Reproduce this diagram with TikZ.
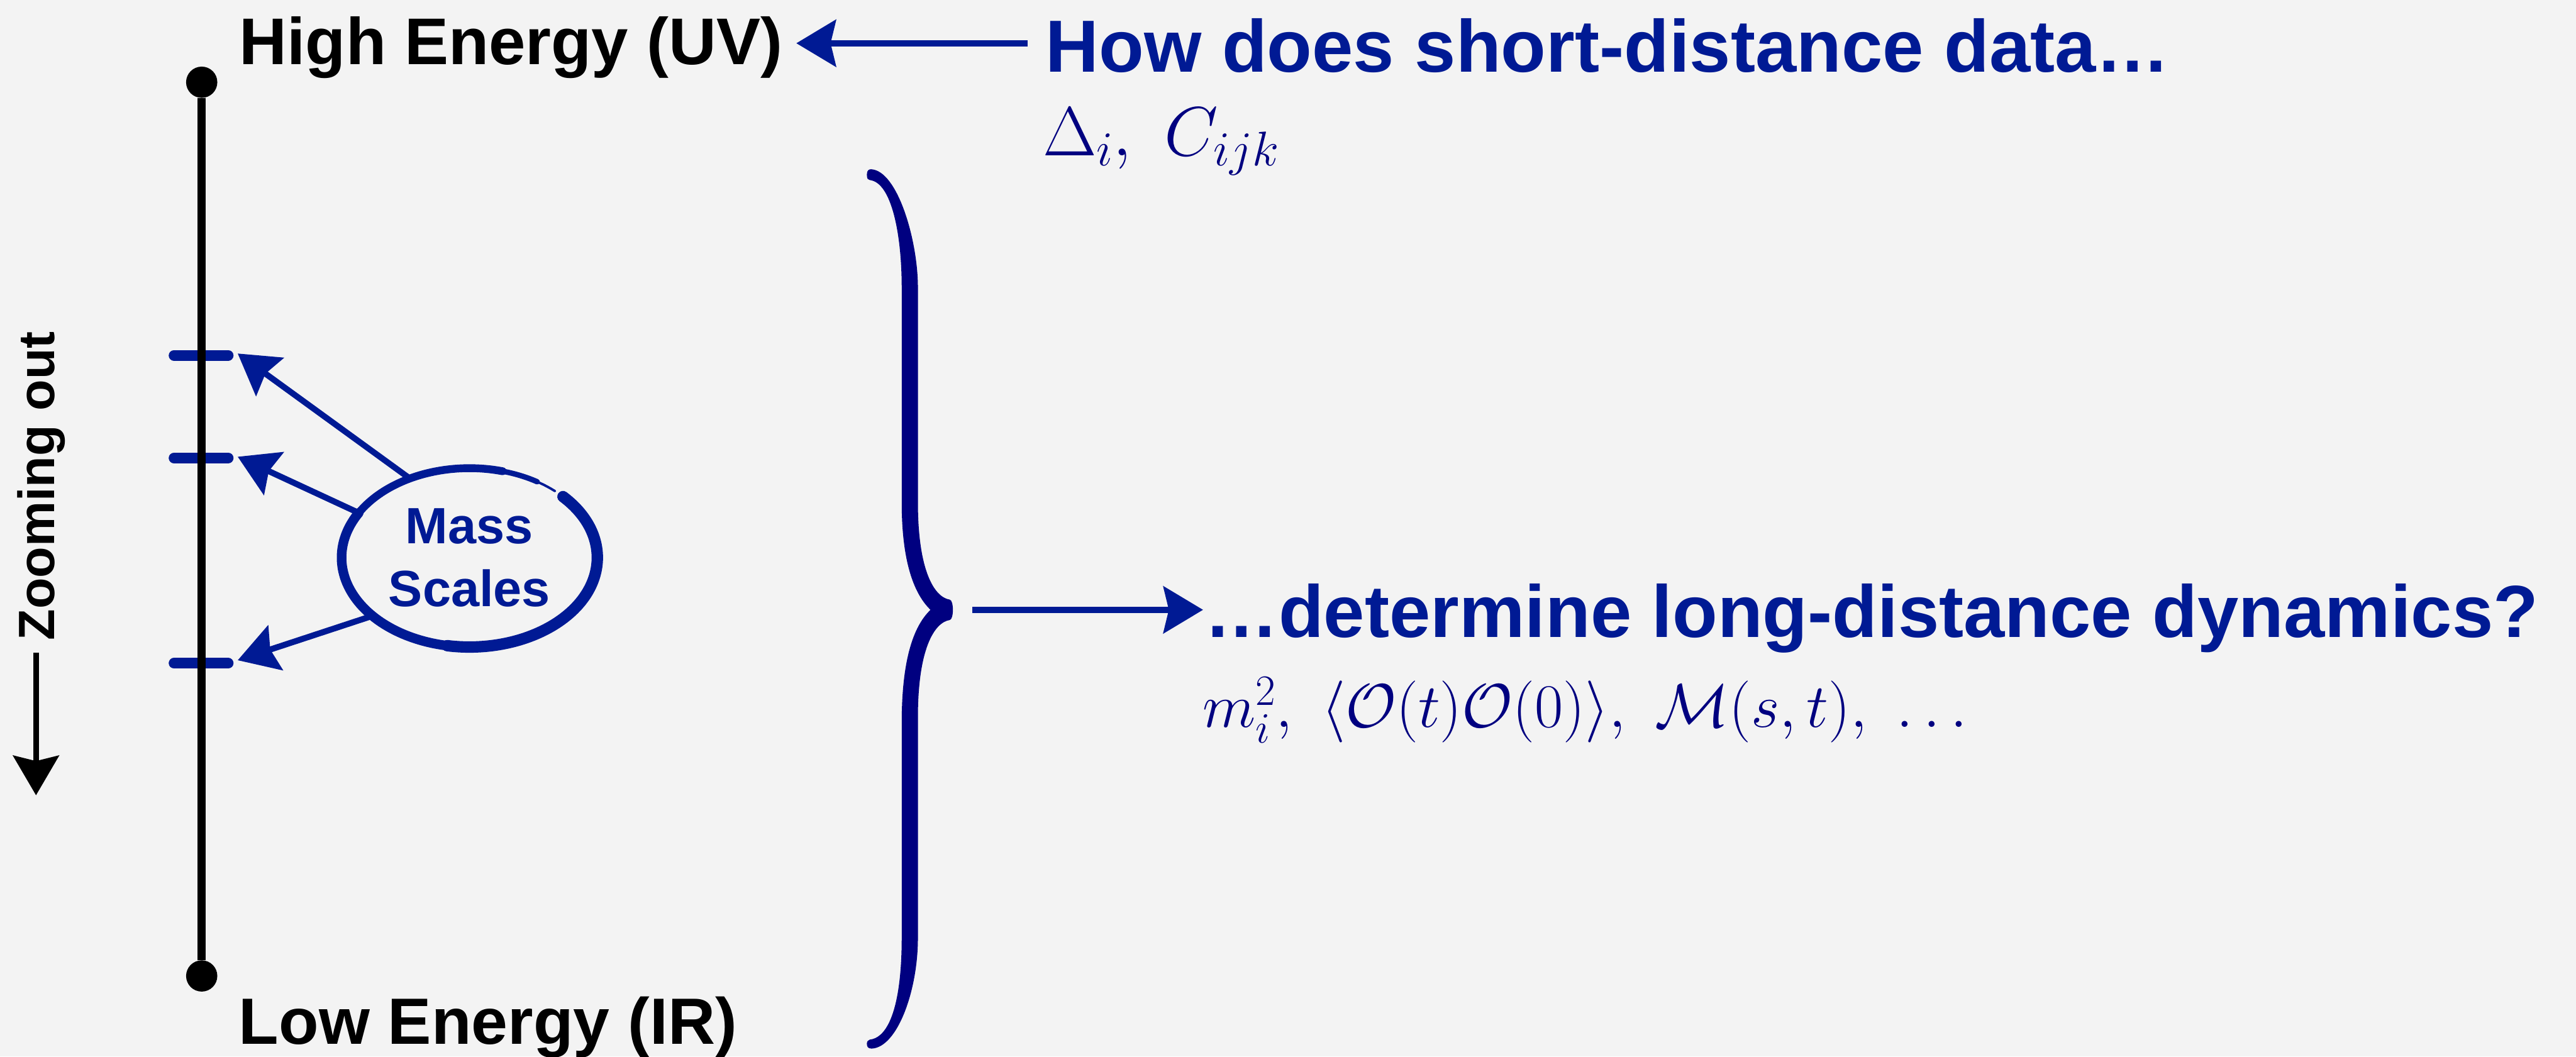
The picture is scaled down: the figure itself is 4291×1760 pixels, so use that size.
\RequirePackage{fix-cm}
\documentclass[tikz,border=0pt]{standalone}
\usepackage{fontspec}
\newfontfamily\hv{Liberation Sans}
\usetikzlibrary{arrows.meta,shapes.geometric}
\definecolor{myblue}{RGB}{0,26,148}
\definecolor{mynavy}{RGB}{0,0,128}
\definecolor{bgcol}{RGB}{243,243,243}
\begin{document}
\begin{tikzpicture}[x=1pt,y=-1pt,
  every node/.style={inner sep=0pt,outer sep=0pt},
  bluearrow/.style={draw=myblue,line width=10pt,-{Stealth[length=66pt,width=78pt,inset=9pt]}},
  blackarrow/.style={draw=black,line width=10pt,-{Stealth[length=66pt,width=76pt,inset=9pt]}},
  ticky/.style={draw=myblue,line width=18pt,line cap=round},
  dotty/.style={circle,fill=black,minimum size=52pt},
  bigtext/.style={anchor=base west,font=\hv\bfseries\fontsize{#1}{#1}\selectfont},
  mathtext/.style={anchor=base west,text=mynavy,font=\fontsize{#1}{#1}\selectfont},
  ringline/.style={draw=myblue,line cap=round}]
\useasboundingbox (0,0) rectangle (4291,1760);
\fill[bgcol] (0,0) rectangle (4291,1760);

% energy axis
\draw[ticky] (290,592) -- (380,592);
\draw[ticky] (290,763) -- (380,763);
\draw[ticky] (290,1105) -- (380,1105);
\node[dotty] (uv) at (336,137) {};
\node[dotty] (ir) at (336,1626) {};
\draw[line width=14pt] (uv) -- (ir);

\node[bigtext=110,text=black] (high) at (399,107) {High Energy (UV)};
\node[bigtext=109,text=black] (low) at (398,1740) {Low Energy (IR)};

% zooming out
\node[bigtext=85,text=black,rotate=90] (zoom) at (91,1067) {Zooming out};
\coordinate (zend) at (60,1325);
\draw[blackarrow] ([yshift=-20pt]zoom.west -| zend) -- (zend);

% mass scales
\node[ellipse,minimum width=426pt,minimum height=298pt,text=myblue,align=center,
      font=\hv\bfseries\fontsize{85}{105}\selectfont] (mass) at (782,929) {Mass\\Scales};
\draw[ringline,line width=19pt] (mass.center) ++(-43:213 and 149) arc[start angle=-43,end angle=100,x radius=213,y radius=149];
\draw[ringline,line width=16pt] (mass.center) ++(100:213 and 149) arc[start angle=100,end angle=210,x radius=213,y radius=149];
\draw[ringline,line width=13pt] (mass.center) ++(210:213 and 149) arc[start angle=210,end angle=285,x radius=213,y radius=149];
\draw[ringline,line width=9pt] (mass.center) ++(285:213 and 149) arc[start angle=285,end angle=302,x radius=213,y radius=149];
\draw[ringline,line width=4pt] (mass.center) ++(302:213 and 149) arc[start angle=302,end angle=312,x radius=213,y radius=149];
\coordinate (m1) at (396,589);
\coordinate (m2) at (396,761);
\coordinate (m3) at (396,1100);
\draw[bluearrow] (mass.127) -- (m1);
\draw[bluearrow] (mass.158) -- (m2);
\draw[bluearrow] (mass.211) -- (m3);

% questions
\node[bigtext=123,text=myblue] (how) at (1742,120) {How does short-distance data…};
\node[mathtext=116] (uvdata) at (1737,259) {$\Delta_i,\ C_{ijk}$};
\node[bigtext=123,text=myblue] (det) at (2007,1062) {…determine long-distance dynamics?};
\node[mathtext=103] (irdata) at (2003,1212) {$m_i^2,\ \langle\mathcal{O}(t)\mathcal{O}(0)\rangle,\ \mathcal{M}(s,t),\ \ldots$};

\path ([yshift=4pt]how.west) coordinate (hw);
\draw[bluearrow] ([xshift=-30pt]hw) -- ([xshift=23pt]hw -| high.east);

% brace
\fill[mynavy] (1444,291)
 .. controls (1444,284) and (1447,282) .. (1451,282)
 .. controls (1495,284) and (1529,400) .. (1529,479)
 -- (1529,837)
 .. controls (1529,950) and (1556,995) .. (1582,999)
 .. controls (1589,1000) and (1589,1032) .. (1582,1033)
 .. controls (1556,1037) and (1529,1082) .. (1529,1195)
 -- (1529,1563)
 .. controls (1529,1650) and (1495,1745) .. (1452,1747)
 .. controls (1446,1747) and (1444,1744) .. (1444,1739)
 .. controls (1444,1735) and (1446,1733) .. (1449,1732)
 .. controls (1485,1728) and (1502,1660) .. (1502,1563)
 -- (1502,1205)
 .. controls (1502,1090) and (1525,1040) .. (1550,1016)
 .. controls (1525,992) and (1502,942) .. (1502,837)
 -- (1502,479)
 .. controls (1502,390) and (1485,304) .. (1449,300)
 .. controls (1446,300) and (1444,298) .. (1444,291) -- cycle;
\coordinate (bracetip) at (1587,1016);
\draw[bluearrow] ([xshift=33pt]bracetip) -- ([xshift=-3pt]bracetip -| det.west);
\end{tikzpicture}
\end{document}
